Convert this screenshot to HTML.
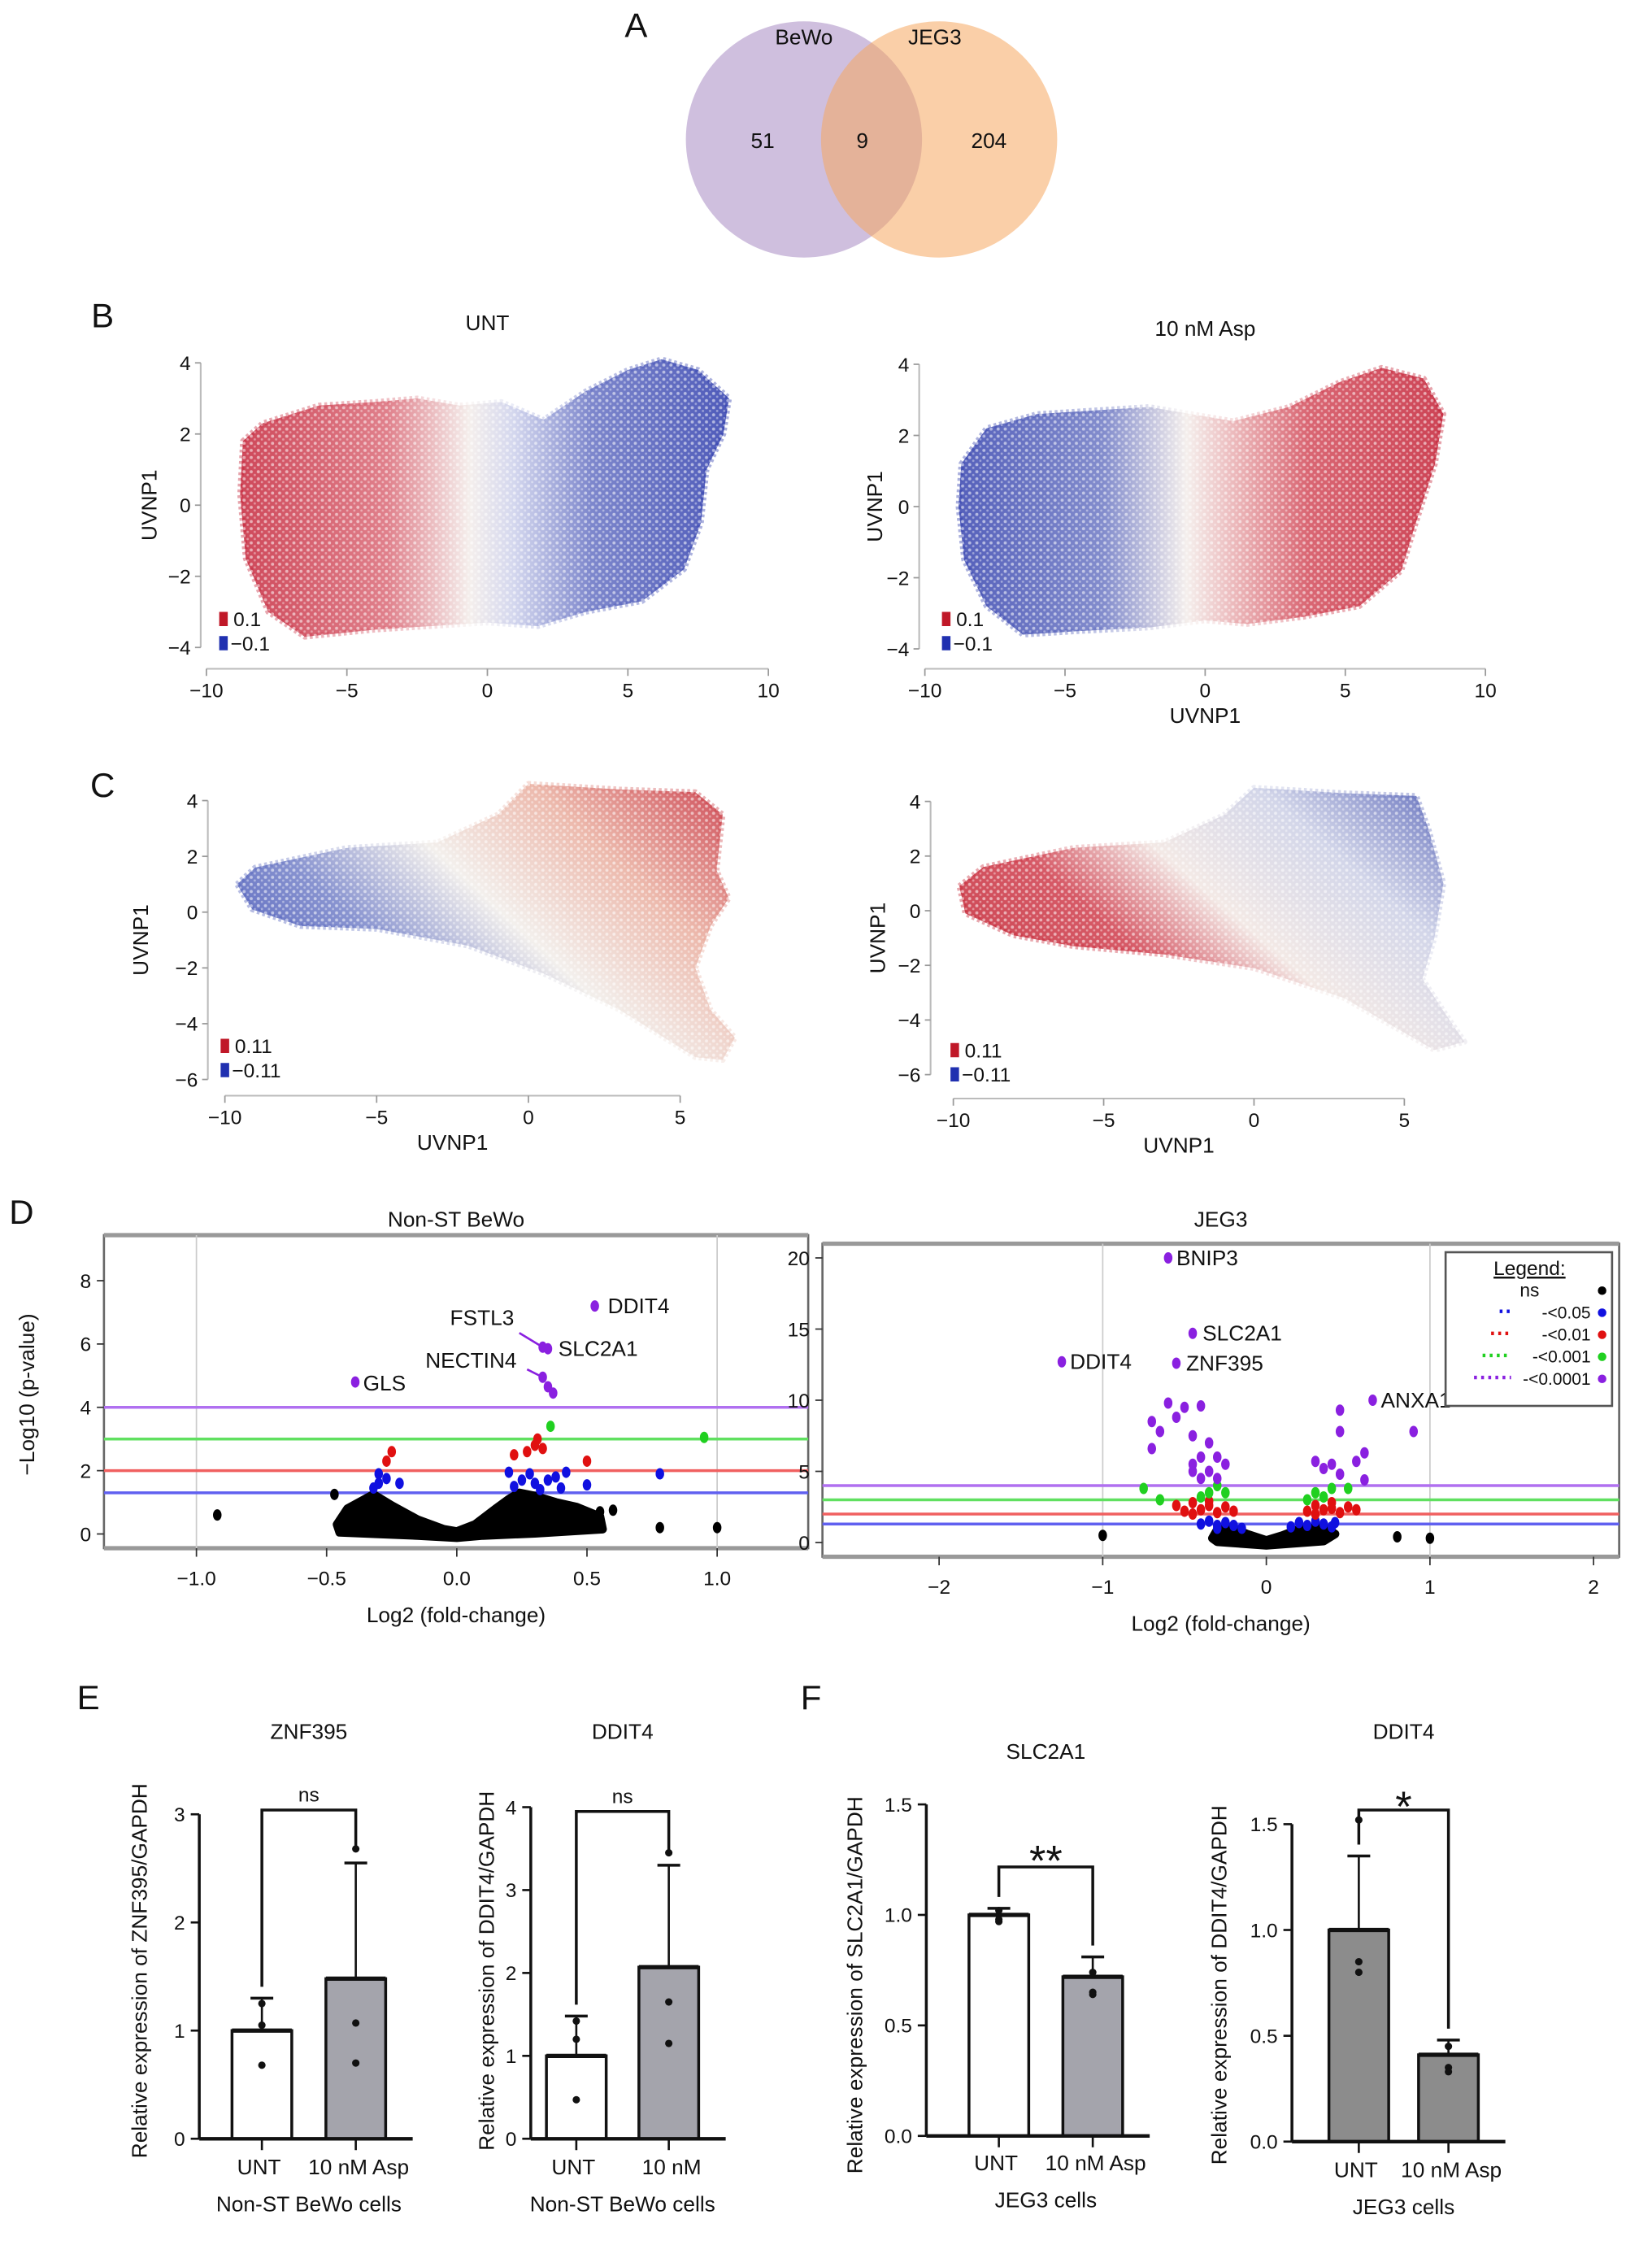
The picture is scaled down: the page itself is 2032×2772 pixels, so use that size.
<!DOCTYPE html>
<html><head><meta charset="utf-8"><style>
html,body{margin:0;padding:0;background:#fff;}
svg{display:block;font-family:"Liberation Sans",sans-serif;}
</style></head><body>
<svg id="fig" xmlns="http://www.w3.org/2000/svg" width="2032" height="2772" viewBox="0 0 1161 1584">
<defs>
<linearGradient id="gBL" gradientUnits="objectBoundingBox" x1="0" y1="0" x2="1" y2="0">
<stop offset="0" stop-color="#c21a30"/><stop offset="0.3" stop-color="#d8606e"/><stop offset="0.47" stop-color="#f2ebe8"/><stop offset="0.56" stop-color="#c9cdea"/><stop offset="0.72" stop-color="#5c68bf"/><stop offset="1" stop-color="#2231a8"/></linearGradient>
<linearGradient id="gBR" gradientUnits="objectBoundingBox" x1="0" y1="0" x2="1" y2="0">
<stop offset="0" stop-color="#2a38aa"/><stop offset="0.3" stop-color="#6470c0"/><stop offset="0.47" stop-color="#f2ebe8"/><stop offset="0.58" stop-color="#e6a0a4"/><stop offset="0.72" stop-color="#d04050"/><stop offset="1" stop-color="#c0142a"/></linearGradient>
<linearGradient id="gCL" gradientUnits="objectBoundingBox" x1="0" y1="0.6" x2="1" y2="0">
<stop offset="0" stop-color="#3344b0"/><stop offset="0.22" stop-color="#6a78c4"/><stop offset="0.45" stop-color="#f0ece8"/><stop offset="0.7" stop-color="#e8a898"/><stop offset="1" stop-color="#c01828"/></linearGradient>
<linearGradient id="gCR" gradientUnits="objectBoundingBox" x1="0" y1="0.6" x2="1" y2="0">
<stop offset="0" stop-color="#c01828"/><stop offset="0.25" stop-color="#cc3040"/><stop offset="0.45" stop-color="#f0e4e0"/><stop offset="0.7" stop-color="#c8cce4"/><stop offset="1" stop-color="#3040a8"/></linearGradient>
<pattern id="speck" patternUnits="userSpaceOnUse" width="5" height="5"><circle cx="1.5" cy="1.5" r="1.1" fill="#fff" fill-opacity="0.55"/><circle cx="4" cy="3.8" r="0.8" fill="#fff" fill-opacity="0.4"/></pattern>
</defs>
</svg>
<script>
// ---------- DATA ----------
const vennLabels=["BeWo","JEG3"];
const vennCounts=[51,9,204];
const bHull=[[-8.7,1.8],[-8,2.3],[-6,2.8],[-4,2.9],[-2.5,3.0],[-1,2.8],[0.5,2.9],[2,2.4],[3.5,3.2],[5,3.8],[6.2,4.1],[7.5,3.8],[8.6,3.0],[8.4,2.0],[7.8,1.0],[7.6,-0.5],[7,-1.8],[5.5,-2.7],[3.5,-3.0],[1.8,-3.4],[0,-3.3],[-2,-3.4],[-4,-3.5],[-6.5,-3.7],[-7.8,-3.0],[-8.6,-1.5],[-8.8,0.3]];
const bRHull=[[-8.7,1.2],[-7.8,2.2],[-6,2.6],[-4,2.7],[-2,2.8],[-0.5,2.6],[1,2.4],[3,2.8],[4.8,3.5],[6.3,3.9],[7.8,3.6],[8.5,2.6],[8.2,1.2],[7.5,-0.5],[7,-1.8],[5.5,-2.8],[3.5,-3.1],[1.5,-3.3],[0,-3.2],[-2,-3.4],[-4.5,-3.5],[-6.5,-3.6],[-7.8,-2.8],[-8.6,-1.5],[-8.8,0]];
const cHull=[[-9.6,1.0],[-9,1.6],[-6,2.3],[-3,2.5],[-1,3.5],[0,4.6],[3,4.4],[5.5,4.3],[6.4,3.5],[6.2,1.5],[6.6,0.5],[6,-0.5],[5.5,-2],[6,-3.5],[6.8,-4.5],[6.4,-5.3],[5.5,-5.2],[3,-3.5],[0.5,-2.2],[-2,-1.2],[-5,-0.6],[-7.5,-0.5],[-9.1,0.1]];
const cRHull=[[-9.8,0.9],[-9,1.6],[-6,2.3],[-3,2.5],[-1,3.5],[0,4.5],[3,4.3],[5.4,4.2],[5.8,3],[6.3,1],[6,-1],[5.6,-2.5],[6.5,-4],[7,-4.8],[6,-5.1],[3,-3.2],[0,-2.1],[-3,-1.6],[-6,-1.3],[-8,-0.9],[-9.6,-0.1]];
const umapXTicks=[-10,-5,0,5,10];
const umapYTicksB=[4,2,0,-2,-4];
const umapXTicksC=[-10,-5,0,5];
const umapYTicksC=[4,2,0,-2,-4,-6];

const dLeftXTicks=[-1.0,-0.5,0.0,0.5,1.0];
const dLeftYTicks=[0,2,4,6,8];
const dRightXTicks=[-2,-1,0,1,2];
const dRightYTicks=[0,5,10,15,20];
const thresholds=[4,3,2,1.3];
const thresholdColors=["#b070f0","#60e060","#f06060","#6060f0"];
const dLeftCloud=[[-0.46,0.3],[-0.42,0.8],[-0.32,1.25],[-0.25,0.9],[-0.15,0.45],[-0.05,0.15],[0,0.08],[0.07,0.3],[0.15,0.8],[0.2,1.1],[0.24,1.3],[0.3,1.2],[0.38,1.0],[0.46,0.85],[0.55,0.55],[0.56,0.15],[0.3,0.02],[0.1,-0.05],[0,-0.12],[-0.15,-0.05],[-0.3,0.0],[-0.45,0.05]];
const dLeftBlack=[[-0.92,0.6],[-0.47,1.25],[0.78,0.2],[1.0,0.2],[0.55,0.7],[0.5,0.3],[0.6,0.75]];
const dLeftBlue=[[-0.3,1.9],[-0.32,1.45],[-0.27,1.75],[-0.22,1.6],[-0.3,1.6],[0.2,1.95],[0.22,1.5],[0.25,1.7],[0.28,1.9],[0.3,1.6],[0.32,1.4],[0.35,1.7],[0.38,1.8],[0.4,1.45],[0.42,1.95],[0.5,1.55],[0.78,1.9]];
const dLeftRed=[[-0.25,2.6],[-0.27,2.3],[0.22,2.5],[0.27,2.6],[0.3,2.8],[0.31,3.0],[0.33,2.7],[0.5,2.3]];
const dLeftGreen=[[0.36,3.4],[0.95,3.05]];
const dLeftPurple=[[0.53,7.2],[0.33,5.9],[0.35,5.85],[-0.39,4.8],[0.33,4.95],[0.35,4.65],[0.37,4.45]];
const dLeftNames=["DDIT4","SLC2A1","GLS","NECTIN4","FSTL3"];
const dRightCloud=[[-0.33,0.3],[-0.3,0.9],[-0.22,1.1],[-0.12,0.6],[0,0.15],[0.1,0.5],[0.2,0.95],[0.35,1.1],[0.42,0.6],[0.35,0.1],[0,-0.2],[-0.3,0.05]];
const dRightBlack=[[-1.0,0.5],[0.8,0.4],[1.0,0.3]];
const dRightBlue=[[-0.35,1.5],[-0.3,1.2],[-0.25,1.4],[-0.2,1.2],[-0.4,1.3],[-0.15,1.0],[0.15,1.1],[0.2,1.4],[0.25,1.2],[0.3,1.5],[0.35,1.3],[0.4,1.1],[-0.3,1.0],[0.42,1.4]];
const dRightRed=[[-0.55,2.6],[-0.5,2.2],[-0.45,2.8],[-0.4,2.3],[-0.35,2.6],[-0.3,2.1],[-0.25,2.5],[-0.2,2.2],[-0.45,2.0],[-0.35,2.9],[0.25,2.2],[0.3,2.6],[0.35,2.3],[0.4,2.8],[0.45,2.1],[0.5,2.5],[0.55,2.3],[0.3,2.0],[0.4,2.4]];
const dRightGreen=[[-0.75,3.8],[-0.65,3.0],[-0.35,3.5],[-0.3,4.0],[-0.25,3.5],[-0.4,3.2],[0.3,3.5],[0.35,3.2],[0.4,3.8],[0.5,3.8],[0.25,3.0]];
const dRightPurple=[[-0.6,9.8],[-0.5,9.5],[-0.4,9.6],[-0.7,8.5],[-0.65,7.8],[-0.7,6.6],[-0.45,7.5],[-0.35,7.0],[-0.4,6.0],[-0.45,5.5],[-0.35,5.0],[-0.3,4.5],[-0.3,6.0],[-0.45,5.0],[-0.25,5.5],[-0.4,4.5],[-0.55,8.8],[0.45,9.3],[0.45,7.8],[0.6,6.3],[0.55,5.7],[0.4,5.5],[0.35,5.2],[0.45,4.8],[0.6,4.4],[0.9,7.8],[0.3,5.7],[-0.6,20],[-0.45,14.7],[-0.55,12.6],[-1.25,12.7],[0.65,10.0]];
const dRightNames=["BNIP3","SLC2A1","ZNF395","DDIT4","ANXA1"];
const legendLabels=["ns","<0.05","<0.01","<0.001","<0.0001"];

const barGroups=["UNT","10 nM Asp"];
const e1Values=[1.0,1.48];const e1Err=[1.3,2.55];const e1Points=[[1.25,1.05,0.68],[2.68,1.07,0.7]];
const e2Values=[1.0,2.07];const e2Err=[1.48,3.3];const e2Points=[[1.42,1.2,0.47],[3.45,1.65,1.15]];
const f1Values=[1.0,0.72];const f1Err=[1.03,0.81];const f1Points=[[1.02,0.98,0.97],[0.74,0.65,0.64]];
const f2Values=[1.0,0.41];const f2Err=[1.35,0.48];const f2Points=[[1.52,0.85,0.8],[0.45,0.35,0.33]];
const e1Ticks=[0,1,2,3];const e2Ticks=[0,1,2,3,4];const f1Ticks=[0,0.5,1.0,1.5];const f2Ticks=[0,0.5,1.0,1.5];

// ---------- HELPERS ----------
const svg=document.getElementById('fig');const NS='http://www.w3.org/2000/svg';
function mk(tag,attrs,name){const e=document.createElementNS(NS,tag);for(const k in attrs)e.setAttribute(k,attrs[k]);


svg.appendChild(e);return e;}
function txt(x,y,s,size,name,opt){opt=opt||{};const t=mk('text',Object.assign({x:x,y:y,'font-size':size,'text-anchor':opt.anchor||'middle',fill:'#111'},opt.rot?{transform:'rotate(-90 '+x+' '+y+')'}:{},opt.extra||{}),name);t.textContent=s;return t;}
function lin(d0,d1,p0,p1){return v=>p0+(v-d0)*(p1-p0)/(d1-d0);}
function fmt(v,dec){return (v<0?'\u2212':'')+Math.abs(v).toFixed(dec);}

// ---------- PANEL A ----------
txt(447,26,"A",24,'panel-a-label');
mk('circle',{cx:565,cy:98,r:83,fill:'#a78bc2','fill-opacity':0.55},'venn-bewo');
mk('circle',{cx:660,cy:98,r:83,fill:'#f5a860','fill-opacity':0.55},'venn-jeg3');
txt(565,31,vennLabels[0],15,'venn-label-bewo');txt(657,31,vennLabels[1],15,'venn-label-jeg3');
txt(536,104,String(vennCounts[0]),15,'venn-count-bewo');txt(606,104,String(vennCounts[1]),15,'venn-count-overlap');txt(695,104,String(vennCounts[2]),15,'venn-count-jeg3');

// ---------- UMAPS ----------
function umap(o){
  const X=lin(o.xd[0],o.xd[1],o.xp[0],o.xp[1]);const Y=lin(0,1,o.y0,o.y0-o.yu);
  mk('line',{x1:o.xp[0],y1:o.axY,x2:o.xp[1],y2:o.axY,stroke:'#bbb','stroke-width':1.2},o.n+'-x-axis');
  mk('line',{x1:o.axX,y1:Y(o.yt[0]),x2:o.axX,y2:Y(o.yt[o.yt.length-1]),stroke:'#bbb','stroke-width':1.2},o.n+'-y-axis');
  o.xt.forEach(v=>{mk('line',{x1:X(v),y1:o.axY,x2:X(v),y2:o.axY+5,stroke:'#999'},o.n+'-x-tick');txt(X(v),o.axY+20,fmt(v,0),14,o.n+'-x-tick-label');});
  o.yt.forEach(v=>{mk('line',{x1:o.axX-4,y1:Y(v),x2:o.axX,y2:Y(v),stroke:'#999'},o.n+'-y-tick');txt(o.axX-7,Y(v)+5,fmt(v,0),14,o.n+'-y-tick-label',{anchor:'end'});});
  const pts=o.hull.map(p=>X(p[0])+','+Y(p[1])).join(' ');
  mk('polygon',{points:pts,fill:'url(#'+o.g+')','fill-opacity':0.8,stroke:'url(#'+o.g+')','stroke-width':4,'stroke-linejoin':'round','stroke-opacity':0.4,'stroke-dasharray':'2 2'},o.n+'-cells');
  mk('polygon',{points:pts,fill:'url(#speck)'},o.n+'-cells-texture');
  txt(o.ylx,(Y(o.yt[0])+Y(o.yt[o.yt.length-1]))/2,"UVNP1",15,o.n+'-y-title',{rot:1});
  if(o.xl)txt((o.xp[0]+o.xp[1])/2,o.axY+38,"UVNP1",15,o.n+'-x-title');
  if(o.title)txt((o.xp[0]+o.xp[1])/2,o.ty,o.title,15,o.n+'-title');
  mk('rect',{x:o.lx,y:o.ly,width:6,height:10,fill:'#c01828'},o.n+'-legend-high');
  mk('rect',{x:o.lx,y:o.ly+17,width:6,height:10,fill:'#2030b0'},o.n+'-legend-low');
  txt(o.lx+10,o.ly+10,o.lv,14,o.n+'-legend-high-label',{anchor:'start'});txt(o.lx+8,o.ly+27,'\u2212'+o.lv,14,o.n+'-legend-low-label',{anchor:'start'});
}
txt(72,230,"B",24,'panel-b-label');
umap({n:'b-unt',xd:[-10,10],xp:[145,540],y0:355,yu:25,axY:470,axX:141,xt:umapXTicks,yt:umapYTicksB,hull:bHull,g:'gBL',ylx:110,title:'UNT',ty:232,lx:154,ly:430,lv:'0.1'});
umap({n:'b-asp',xd:[-10,10],xp:[650,1044],y0:356,yu:25,axY:470,axX:646,xt:umapXTicks,yt:umapYTicksB,hull:bRHull,g:'gBR',ylx:620,title:'10 nM Asp',ty:236,xl:1,lx:662,ly:430,lv:'0.1'});
txt(72,560,"C",24,'panel-c-label');
umap({n:'c-unt',xd:[-10,5],xp:[158,478],y0:641,yu:19.6,axY:770,axX:146,xt:umapXTicksC,yt:umapYTicksC,hull:cHull,g:'gCL',ylx:104,xl:1,lx:155,ly:730,lv:'0.11'});
umap({n:'c-asp',xd:[-10,5],xp:[670,987],y0:640,yu:19.2,axY:772,axX:654,xt:umapXTicksC,yt:umapYTicksC,hull:cRHull,g:'gCR',ylx:622,xl:1,lx:668,ly:733,lv:'0.11'});

// ---------- VOLCANOS ----------
function volcano(o){
  const X=lin(0,1,o.x0,o.x0+o.xu);const Y=lin(0,1,o.y0,o.y0-o.yu);
  mk('rect',{x:o.box[0],y:o.box[1],width:o.box[2]-o.box[0],height:o.box[3]-o.box[1],fill:'none',stroke:'#666','stroke-width':1.5},o.n+'-frame');
  mk('line',{x1:o.box[0],y1:o.box[1],x2:o.box[2],y2:o.box[1],stroke:'#999','stroke-width':3},o.n+'-frame-top');
  mk('line',{x1:o.box[0],y1:o.box[3],x2:o.box[2],y2:o.box[3],stroke:'#999','stroke-width':3},o.n+'-frame-bottom');
  [-1,1].forEach(v=>mk('line',{x1:X(v),y1:o.box[1],x2:X(v),y2:o.box[3],stroke:'#ccc','stroke-width':1},o.n+'-grid-x'));
  o.xt.forEach(v=>{mk('line',{x1:X(v),y1:o.box[3],x2:X(v),y2:o.box[3]+6,stroke:'#333'},o.n+'-x-tick');txt(X(v),o.box[3]+26,fmt(v,o.dec),14,o.n+'-x-tick-label');});
  o.yt.forEach(v=>{mk('line',{x1:o.box[0]-5,y1:Y(v),x2:o.box[0],y2:Y(v),stroke:'#333'},o.n+'-y-tick');txt(o.box[0]-9,Y(v)+5,String(v),14,o.n+'-y-tick-label',{anchor:'end'});});
  thresholds.forEach((t,i)=>mk('line',{x1:o.box[0],y1:Y(t),x2:o.box[2],y2:Y(t),stroke:thresholdColors[i],'stroke-width':2},o.n+'-threshold-line'));
  mk('polygon',{points:o.cloud.map(p=>X(p[0])+','+Y(p[1])).join(' '),fill:'#000',stroke:'#000','stroke-width':6,'stroke-linejoin':'round'},o.n+'-ns-cloud');
  const sets=[[o.black,'#000','ns'],[o.blue,'#1010e0','p005'],[o.red,'#e01010','p001'],[o.green,'#20d020','p0001'],[o.purple,'#8a20e0','p00001']];
  sets.forEach(s=>s[0].forEach(p=>mk('ellipse',{cx:X(p[0]),cy:Y(p[1]),rx:3,ry:4,fill:s[1]},o.n+'-point-'+s[2])));
  txt((o.box[0]+o.box[2])/2,o.ty,o.title,15,o.n+'-title');
  txt((o.box[0]+o.box[2])/2,o.box[3]+52,"Log2 (fold-change)",15,o.n+'-x-title');
  return {X:X,Y:Y};
}
txt(15,860,"D",24,'panel-d-label');
const vl=volcano({n:'volcano-bewo',x0:321,xu:183,y0:1078,yu:22.25,box:[73,868,568,1088],xt:dLeftXTicks,yt:dLeftYTicks,dec:1,cloud:dLeftCloud,black:dLeftBlack,blue:dLeftBlue,red:dLeftRed,green:dLeftGreen,purple:dLeftPurple,title:'Non-ST BeWo',ty:862});
txt(24,980,"\u2212Log10 (p-value)",15,'volcano-y-title',{rot:1});
txt(vl.X(0.58),vl.Y(7.2)+5,dLeftNames[0],15,'label-ddit4',{anchor:'start'});
txt(vl.X(0.39),vl.Y(5.85)+5,dLeftNames[1],15,'label-slc2a1',{anchor:'start'});
txt(vl.X(-0.36),vl.Y(4.8)+6,dLeftNames[2],15,'label-gls',{anchor:'start'});
txt(vl.X(0.23),vl.Y(5.25),dLeftNames[3],15,'label-nectin4',{anchor:'end'});
txt(vl.X(0.22),vl.Y(6.6),dLeftNames[4],15,'label-fstl3',{anchor:'end'});
mk('line',{x1:vl.X(0.24),y1:vl.Y(6.35),x2:vl.X(0.33),y2:vl.Y(5.9),stroke:'#8a20e0','stroke-width':1.5},'fstl3-leader');
mk('line',{x1:vl.X(0.27),y1:vl.Y(5.2),x2:vl.X(0.33),y2:vl.Y(4.95),stroke:'#8a20e0','stroke-width':1.5},'nectin4-leader');
const vr=volcano({n:'volcano-jeg3',x0:890,xu:115,y0:1084,yu:10,box:[578,874,1138,1094],xt:dRightXTicks,yt:dRightYTicks,dec:0,cloud:dRightCloud,black:dRightBlack,blue:dRightBlue,red:dRightRed,green:dRightGreen,purple:dRightPurple,title:'JEG3',ty:862});
txt(vr.X(-0.55),vr.Y(20)+5,dRightNames[0],15,'label-bnip3',{anchor:'start'});
txt(vr.X(-0.39),vr.Y(14.7)+5,dRightNames[1],15,'label-slc2a1-jeg3',{anchor:'start'});
txt(vr.X(-0.49),vr.Y(12.6)+5,dRightNames[2],15,'label-znf395',{anchor:'start'});
txt(vr.X(-1.2),vr.Y(12.7)+5,dRightNames[3],15,'label-ddit4-jeg3',{anchor:'start'});
txt(vr.X(0.7),vr.Y(10.0)+5,dRightNames[4],15,'label-anxa1',{anchor:'start'});
// legend
mk('rect',{x:1016,y:880,width:117,height:108,fill:'#fff',stroke:'#555','stroke-width':1.5},'volcano-legend-box');
txt(1075,896,"Legend:",14,'legend-title',{extra:{'text-decoration':'underline'}});
const legCols=['#000','#1010e0','#e01010','#20d020','#8a20e0'];
legendLabels.forEach((l,i)=>{const y=911+i*15.5;
  if(i==0){txt(1075,y,l,13,'legend-entry-label');}
  else{txt(1118,y,'-'+l,12,'legend-entry-label',{anchor:'end'});
  mk('line',{x1:1060-i*6,y1:y-5,x2:1062,y2:y-5,stroke:legCols[i],'stroke-width':2.5,'stroke-dasharray':'2 3'},'legend-entry-line');}
  mk('circle',{cx:1126,cy:y-4,r:3,fill:legCols[i]},'legend-entry-marker');
});

// ---------- BAR CHARTS ----------
function bars(o){
  const Y=lin(0,1,o.y0,o.y0-o.yu);
  const cats=o.cats;
  mk('line',{x1:o.ax,y1:o.y0,x2:o.ax,y2:Y(o.ticks[o.ticks.length-1]),stroke:'#111','stroke-width':2},o.n+'-y-axis');
  o.ticks.forEach(v=>{mk('line',{x1:o.ax-6,y1:Y(v),x2:o.ax,y2:Y(v),stroke:'#111','stroke-width':1.5},o.n+'-y-tick');txt(o.ax-10,Y(v)+5,o.tdec?v.toFixed(o.tdec):String(v),14,o.n+'-y-tick-label',{anchor:'end'});});
  o.vals.forEach((v,i)=>{const cx=o.cx[i];
    mk('line',{x1:cx,y1:Y(v),x2:cx,y2:Y(o.err[i]),stroke:'#111','stroke-width':1.5},o.n+'-errorbar-'+i);
    mk('line',{x1:cx-8,y1:Y(o.err[i]),x2:cx+8,y2:Y(o.err[i]),stroke:'#111','stroke-width':2},o.n+'-errorcap-'+i);
    mk('rect',{x:cx-21,y:Y(v),width:42,height:o.y0-Y(v),fill:o.fills[i],stroke:'#111','stroke-width':2},o.n+'-bar-'+i);
    mk('line',{x1:cx-21,y1:Y(v),x2:cx+21,y2:Y(v),stroke:'#111','stroke-width':3},o.n+'-bar-top-'+i);
    o.pts[i].forEach(p=>mk('circle',{cx:cx,cy:Y(p),r:2.6,fill:'#111'},o.n+'-point'));
    mk('line',{x1:cx,y1:o.y0,x2:cx,y2:o.y0+8,stroke:'#111','stroke-width':1.5},o.n+'-x-tick');
    txt(cx+(i==0?-2:2),o.y0+o.lo,cats[i],15,o.n+'-x-label-'+i);
  });
  mk('line',{x1:o.ax,y1:o.y0,x2:o.cx[1]+40,y2:o.y0,stroke:'#111','stroke-width':2.5},o.n+'-x-axis');
  const by=o.by;
  mk('polyline',{points:o.cx[0]+','+(Y(o.err[0])-8)+' '+o.cx[0]+','+by+' '+o.cx[1]+','+by+' '+o.cx[1]+','+(Y(o.err[1])-8),fill:'none',stroke:'#111','stroke-width':2},o.n+'-sig-bracket');
  txt((o.cx[0]+o.cx[1])/2,by-o.sigOff,o.sig,o.sigSize,o.n+'-sig-label');
  txt((o.cx[0]+o.cx[1])/2,o.ty,o.title,15,o.n+'-title');
  txt((o.cx[0]+o.cx[1])/2,o.y0+o.lo+26,o.cell,15,o.n+'-x-title');
  txt(o.ylx,o.yly,o.ylab,15,o.n+'-y-title',{rot:1});
}
txt(62,1201,"E",24,'panel-e-label');txt(570,1201,"F",24,'panel-f-label');
bars({n:'e-znf395',ax:140,y0:1503,yu:76,ticks:e1Ticks,vals:e1Values,err:e1Err,pts:e1Points,cx:[184,250],fills:['#fff','#a4a4ac'],cats:barGroups,lo:25,by:1272,sig:'ns',sigOff:6,sigSize:14,title:'ZNF395',ty:1222,cell:'Non-ST BeWo cells',ylx:103,yly:1385,ylab:'Relative expression of ZNF395/GAPDH'});
bars({n:'e-ddit4',ax:373,y0:1503,yu:58.25,ticks:e2Ticks,vals:e2Values,err:e2Err,pts:e2Points,cx:[405,470],fills:['#fff','#a4a4ac'],cats:['UNT','10 nM'],lo:25,by:1273,sig:'ns',sigOff:6,sigSize:14,title:'DDIT4',ty:1222,cell:'Non-ST BeWo cells',ylx:347,yly:1385,ylab:'Relative expression of DDIT4/GAPDH'});
bars({n:'f-slc2a1',ax:651,y0:1501,yu:155.3,ticks:f1Ticks,vals:f1Values,err:f1Err,pts:f1Points,cx:[702,768],fills:['#fff','#a4a4ac'],cats:barGroups,lo:24,tdec:1,by:1312,sig:'**',sigOff:-6,sigSize:30,title:'SLC2A1',ty:1236,cell:'JEG3 cells',ylx:606,yly:1395,ylab:'Relative expression of SLC2A1/GAPDH'});
bars({n:'f-ddit4',ax:908,y0:1505,yu:148.7,ticks:f2Ticks,vals:f2Values,err:f2Err,pts:f2Points,cx:[955,1018],fills:['#8c8c8c','#8c8c8c'],cats:barGroups,lo:25,tdec:1,by:1272,sig:'*',sigOff:-8,sigSize:30,title:'DDIT4',ty:1222,cell:'JEG3 cells',ylx:862,yly:1395,ylab:'Relative expression of DDIT4/GAPDH'});
</script>
</body></html>
